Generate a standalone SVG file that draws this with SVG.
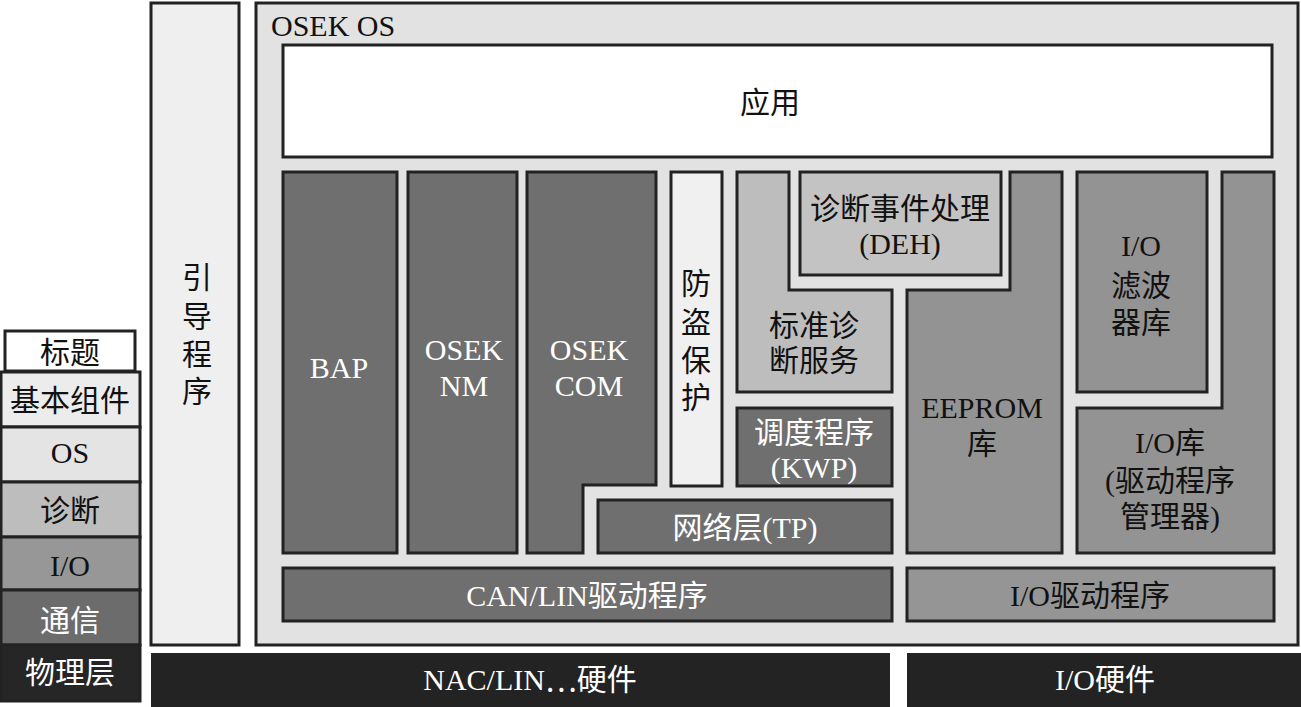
<svg xmlns="http://www.w3.org/2000/svg" width="1301" height="707" viewBox="0 0 1301 707">
<style>
text{font-family:"Liberation Serif","Noto Sans CJK SC",serif;font-size:30px;text-anchor:middle;dominant-baseline:central}
.b{stroke:#222;stroke-width:3}
.w{fill:#fff}
.k{fill:#111}
</style>
<rect width="1301" height="707" fill="#fff"/>
<g id="legend">
<rect x="5" y="331" width="130" height="40" fill="#fff" class="b"/>
<text x="70" y="352" class="k">标题</text>
<rect x="1" y="372" width="139" height="55" fill="#ececec" class="b"/>
<text x="70" y="400" class="k">基本组件</text>
<rect x="1" y="427" width="139" height="55" fill="#e4e4e4" class="b"/>
<text x="70" y="452" class="k">OS</text>
<rect x="1" y="482" width="139" height="55" fill="#bdbdbd" class="b"/>
<text x="70" y="510" class="k">诊断</text>
<rect x="1" y="537" width="139" height="53" fill="#979797" class="b"/>
<text x="70" y="565" class="k">I/O</text>
<rect x="1" y="590" width="139" height="55" fill="#6c6c6c" class="b"/>
<text x="70" y="620" class="w">通信</text>
<rect x="1" y="645" width="139" height="56" fill="#262626" class="b"/>
<text x="70" y="672" class="w">物理层</text>
</g>
<g id="boot">
<rect x="151" y="3" width="88" height="642" fill="#efefef" class="b"/>
<text x="197" y="277" class="k">引</text>
<text x="197" y="316" class="k">导</text>
<text x="197" y="354" class="k">程</text>
<text x="197" y="391" class="k">序</text>
</g>
<g id="osek">
<rect x="256" y="3" width="1042" height="642" fill="#e2e2e2" class="b"/>
<text x="271" y="25" class="k" style="text-anchor:start">OSEK OS</text>
</g>
<g id="app">
<rect x="283" y="45" width="989" height="112" fill="#fff" class="b"/>
<text x="770" y="102" class="k">应用</text>
</g>
<g id="bap">
<rect x="283" y="172" width="114" height="381" fill="#6f6f6f" class="b"/>
<text x="339" y="367" class="w">BAP</text>
</g>
<g id="nm">
<rect x="408" y="172" width="109" height="381" fill="#6f6f6f" class="b"/>
<text x="464" y="349" class="w">OSEK</text>
<text x="464" y="385" class="w">NM</text>
</g>
<g id="com">
<path d="M527 172H656V485H583V553H527Z" fill="#6f6f6f" class="b"/>
<text x="589" y="349" class="w">OSEK</text>
<text x="589" y="385" class="w">COM</text>
</g>
<g id="tp">
<rect x="598" y="500" width="294" height="53" fill="#6f6f6f" class="b"/>
<text x="745" y="527" class="w">网络层(TP)</text>
</g>
<g id="antitheft">
<rect x="671" y="172" width="51" height="314" fill="#f0f0f0" class="b"/>
<text x="696" y="283" class="k">防</text>
<text x="696" y="322" class="k">盗</text>
<text x="696" y="360" class="k">保</text>
<text x="696" y="397" class="k">护</text>
</g>
<g id="uds">
<path d="M737 172H789V290H892V392H737Z" fill="#bdbdbd" class="b"/>
<text x="814" y="325" class="k">标准诊</text>
<text x="814" y="360" class="k">断服务</text>
</g>
<g id="deh">
<rect x="800" y="172" width="201" height="103" fill="#c3c3c3" class="b"/>
<text x="900" y="208" class="k">诊断事件处理</text>
<text x="900" y="243" class="k">(DEH)</text>
</g>
<g id="kwp">
<rect x="737" y="408" width="155" height="78" fill="#6f6f6f" class="b"/>
<text x="814" y="432" class="w">调度程序</text>
<text x="814" y="467" class="w">(KWP)</text>
</g>
<g id="eeprom">
<path d="M1010 172H1062V553H907V290H1010Z" fill="#939393" class="b"/>
<text x="982" y="407" class="k">EEPROM</text>
<text x="982" y="443" class="k">库</text>
</g>
<g id="iofilter">
<rect x="1077" y="172" width="130" height="220" fill="#939393" class="b"/>
<text x="1141" y="245" class="k">I/O</text>
<text x="1141" y="285" class="k">滤波</text>
<text x="1141" y="322" class="k">器库</text>
</g>
<g id="iolib">
<path d="M1222 172H1274V553H1077V408H1222Z" fill="#939393" class="b"/>
<text x="1170" y="442" class="k">I/O库</text>
<text x="1170" y="480" class="k">(驱动程序</text>
<text x="1170" y="516" class="k">管理器)</text>
</g>
<g id="candrv">
<rect x="283" y="568" width="609" height="53" fill="#6f6f6f" class="b"/>
<text x="587" y="595" class="w">CAN/LIN驱动程序</text>
</g>
<g id="iodrv">
<rect x="907" y="568" width="367" height="53" fill="#959595" class="b"/>
<text x="1090" y="595" class="k">I/O驱动程序</text>
</g>
<g id="canhw">
<rect x="151" y="653" width="739" height="54" fill="#232323"/>
<text x="530" y="679" class="w">NAC/LIN<tspan style="font-family:'Noto Sans CJK SC',sans-serif">…</tspan>硬件</text>
</g>
<g id="iohw">
<rect x="907" y="653" width="394" height="54" fill="#232323"/>
<text x="1105" y="679" class="w">I/O硬件</text>
</g>
<g id="connectors"></g>
</svg>
